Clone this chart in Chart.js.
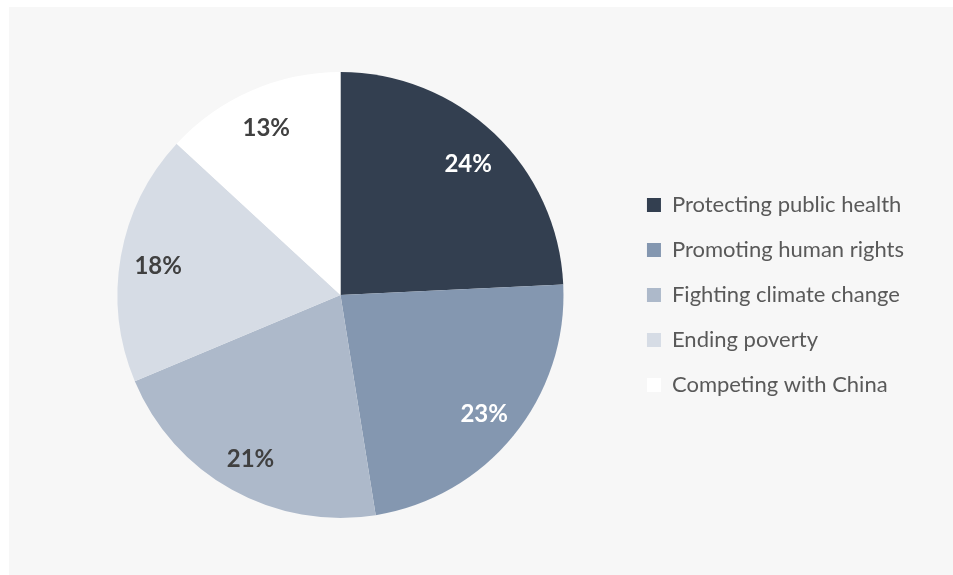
<!DOCTYPE html>
<html>
<head>
<meta charset="utf-8">
<script src="https://cdn.jsdelivr.net/npm/chart.js@4/dist/chart.umd.min.js"></script>
<style>
  html, body { margin: 0; padding: 0; background: #ffffff; }
  #panel {
    position: absolute; left: 9px; top: 7px;
    width: 944px; height: 568px;
    background: #f7f7f7;
  }
  #panel canvas { display: block; }
</style>
</head>
<body>
<div id="panel"><canvas id="pie-chart" width="944" height="568"></canvas></div>
<script>
// Kategori dan nilai (persen)
const categories = [
  'Protecting public health',
  'Promoting human rights',
  'Fighting climate change',
  'Ending poverty',
  'Competing with China'
];
const shares = [24, 23, 21, 18, 13];

// Warna tiap irisan
const sliceColors = ['#333f50', '#8497b0', '#adb9ca', '#d6dce5', '#ffffff'];
const labelColors = ['#ffffff', '#ffffff', '#404040', '#404040', '#404040'];

const FONT = 'Lato, "Open Sans", sans-serif';

// Plugin kecil untuk menulis persen di dalam irisan
const sliceLabels = {
  id: 'sliceLabels',
  afterDatasetsDraw(chart) {
    const ctx = chart.ctx;
    const meta = chart.getDatasetMeta(0);
    ctx.save();
    ctx.font = 'bold 24px ' + FONT;
    ctx.textAlign = 'center';
    ctx.textBaseline = 'middle';
    meta.data.forEach((arc, i) => {
      const mid = (arc.startAngle + arc.endAngle) / 2;
      const r = arc.outerRadius * 0.83;
      ctx.fillStyle = labelColors[i];
      ctx.fillText(shares[i] + '%', arc.x + Math.cos(mid) * r, arc.y + Math.sin(mid) * r + 3);
    });
    ctx.restore();
  }
};

new Chart(document.getElementById('pie-chart').getContext('2d'), {
  type: 'pie',
  data: {
    labels: categories,
    datasets: [{
      data: shares,
      backgroundColor: sliceColors,
      borderWidth: 0
    }]
  },
  options: {
    responsive: false,
    animation: false,
    layout: {
      padding: { top: 65, bottom: 57, left: 48, right: 39 }
    },
    plugins: {
      tooltip: { enabled: false },
      legend: {
        position: 'right',
        labels: {
          boxWidth: 14,
          boxHeight: 14,
          padding: 23,
          color: '#595959',
          font: { family: FONT, size: 22 }
        }
      }
    }
  },
  plugins: [sliceLabels]
});
</script>
</body>
</html>
